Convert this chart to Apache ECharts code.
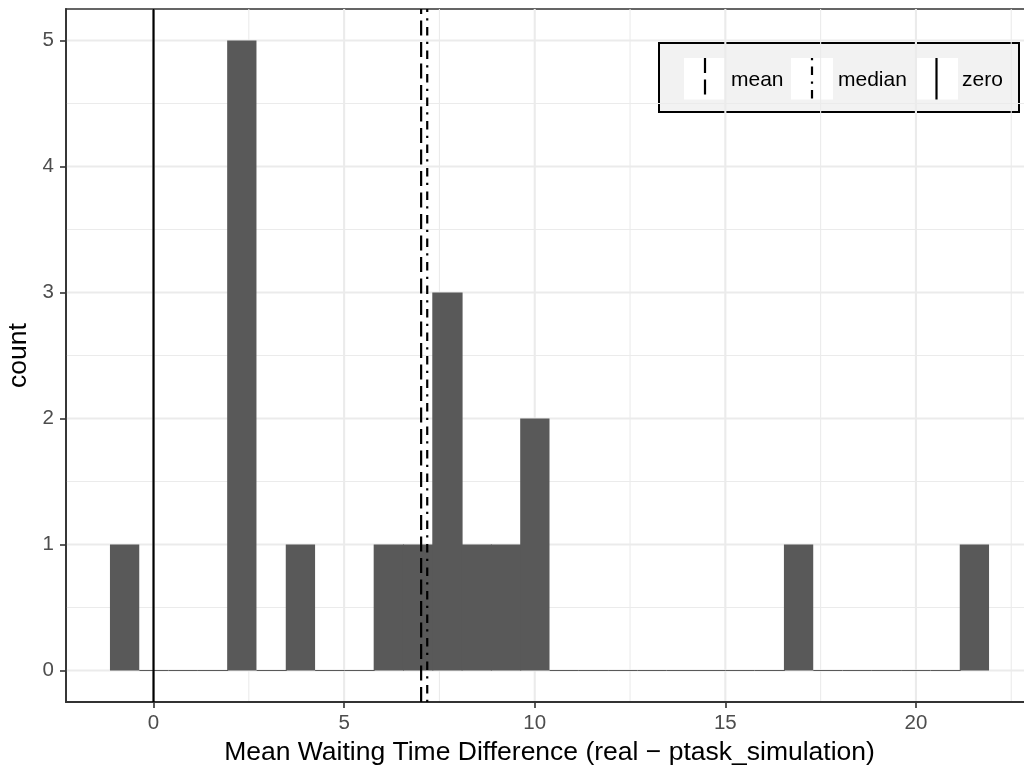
<!DOCTYPE html>
<html>
<head>
<meta charset="utf-8">
<script src="https://cdn.jsdelivr.net/npm/echarts@6/dist/echarts.min.js"></script>
<style>
html,body{margin:0;padding:0;background:#fff;}
#chart{width:1024px;height:769px;}
</style>
</head>
<body>
<div id="chart"></div>
<script>
// ---- data ----
const binCounts = [1,0,0,0,5,0,1,0,0,1,1,3,1,1,2,0,0,0,0,0,0,0,0,1,0,0,0,0,0,1];
const binStart = -1.143;
const binWidth = 0.7687;
const meanValue = 7.02;
const medianValue = 7.18;
const zeroValue = 0;
const xTicks = [0, 5, 10, 15, 20];
const xMinorGrid = [2.5, 7.5, 12.5, 17.5, 22.5];
const yTicks = [0, 1, 2, 3, 4, 5];
const yMinorGrid = [0.5, 1.5, 2.5, 3.5, 4.5];
const legendLabels = ['mean', 'median', 'zero'];
const xTitle = 'Mean Waiting Time Difference (real \u2212 ptask_simulation)';
const yTitle = 'count';

// ---- derived ranges (ggplot-style 5% expansion) ----
const dataXMin = Math.min(binStart, zeroValue);
const dataXMax = binStart + binCounts.length * binWidth;
const xPad = 0.05 * (dataXMax - dataXMin);
const xMin = dataXMin - xPad, xMax = dataXMax + xPad;
const yDataMax = Math.max(...binCounts);
const yMin = -0.05 * yDataMax, yMax = yDataMax * 1.05;

const FONT = '"Liberation Sans", Arial, Helvetica, sans-serif';
const chart = echarts.init(document.getElementById('chart'), null, {renderer: 'canvas'});

const barData = binCounts.map((c, i) => [binStart + i * binWidth, binStart + (i + 1) * binWidth, c]);

function vGrid(width) {
  return function (params, api) {
    const v = api.value(0);
    const a = api.coord([v, yMin]), b = api.coord([v, yMax]);
    return {type: 'line', shape: {x1: a[0], y1: a[1], x2: b[0], y2: b[1]},
      style: {stroke: '#EBEBEB', lineWidth: width}};
  };
}
function hGrid(width) {
  return function (params, api) {
    const v = api.value(0);
    const a = api.coord([xMin, v]), b = api.coord([xMax, v]);
    return {type: 'line', shape: {x1: a[0], y1: a[1], x2: b[0], y2: b[1]},
      style: {stroke: '#EBEBEB', lineWidth: width}};
  };
}

function vline(x, type, width) {
  return {
    type: 'line', data: [[x, yMin], [x, yMax]], symbol: 'none', silent: true,
    animation: false, z: 5,
    lineStyle: {color: '#000', width: width, type: type, cap: 'butt'}
  };
}

const longdash = [15, 6.5];
const dotdash = [2.2, 6.4, 8.5, 6.4];

const option = {
  animation: false,
  backgroundColor: '#fff',
  grid: {left: 66, top: 9, width: 967, height: 693, show: true, containLabel: false,
    outerBoundsMode: 'none',
    borderColor: '#333333', borderWidth: 1.6, backgroundColor: 'transparent'},
  xAxis: {
    type: 'value', min: xMin, max: xMax,
    name: xTitle, nameLocation: 'middle', nameGap: 32,
    nameTextStyle: {color: '#000', fontSize: 26.5, fontFamily: FONT},
    axisLine: {show: true, onZero: false, lineStyle: {color: '#333333', width: 1.8}},
    axisTick: {show: true, length: 6, customValues: xTicks, lineStyle: {color: '#333333', width: 1.6}},
    axisLabel: {show: true, customValues: xTicks, margin: 11, color: '#4D4D4D', fontSize: 20.5, fontFamily: FONT},
    splitLine: {show: false}, minorSplitLine: {show: false}
  },
  yAxis: {
    type: 'value', min: yMin, max: yMax,
    name: yTitle, nameLocation: 'middle', nameGap: 33, nameRotate: 90,
    nameTextStyle: {color: '#000', fontSize: 26.5, fontFamily: FONT},
    axisLine: {show: true, onZero: false, lineStyle: {color: '#333333', width: 1.8}},
    axisTick: {show: true, length: 6, customValues: yTicks, lineStyle: {color: '#333333', width: 1.6}},
    axisLabel: {show: true, customValues: yTicks, margin: 12, color: '#4D4D4D', fontSize: 20.5, fontFamily: FONT},
    splitLine: {show: false}
  },
  series: [
    {type: 'custom', silent: true, z: 0, data: xMinorGrid.map(v => [v]), renderItem: vGrid(1.1)},
    {type: 'custom', silent: true, z: 0, data: yMinorGrid.map(v => [v]), renderItem: hGrid(1.1)},
    {type: 'custom', silent: true, z: 0, data: xTicks.map(v => [v]), renderItem: vGrid(2.1)},
    {type: 'custom', silent: true, z: 0, data: yTicks.map(v => [v]), renderItem: hGrid(2.1)},
    {
      type: 'custom', z: 2, data: barData,
      encode: {x: [0, 1], y: 2},
      renderItem: function (params, api) {
        const x0 = api.value(0), x1 = api.value(1), c = api.value(2);
        const p0 = api.coord([x0, 0]);
        const p1 = api.coord([x1, c]);
        const next = params.dataIndex < binCounts.length - 1 ? binCounts[params.dataIndex + 1] : 0;
        const extra = next > 0 ? 1 : 0;
        if (c === 0) {
          const yb = Math.round(p0[1]);
          return {type: 'rect', shape: {x: p0[0], y: yb - 1, width: p1[0] - p0[0] + extra, height: 1},
            style: {fill: '#595959'}};
        }
        return {type: 'rect', shape: {x: p0[0], y: p1[1], width: p1[0] - p0[0] + extra, height: p0[1] - p1[1]},
          style: {fill: '#595959'}};
      }
    },
    vline(zeroValue, 'solid', 2.2),
    vline(meanValue, longdash, 2.2),
    vline(medianValue, dotdash, 2.2)
  ],
  graphic: [{
    type: 'group', left: 658, top: 42, z: 100,
    children: [
      {type: 'rect', shape: {x: 0, y: 0, width: 360, height: 69}, style: {fill: '#F2F2F2', stroke: '#000', lineWidth: 2}},
      {type: 'rect', shape: {x: 25, y: 15, width: 42, height: 41.5}, style: {fill: '#fff'}},
      {type: 'line', shape: {x1: 46, y1: 15, x2: 46, y2: 56.5}, style: {stroke: '#000', lineWidth: 2.2, lineDash: longdash, lineCap: 'butt'}},
      {type: 'text', x: 72, y: 37, style: {text: legendLabels[0], fill: '#000', fontSize: 21, fontFamily: FONT, verticalAlign: 'middle'}},
      {type: 'rect', shape: {x: 132, y: 15, width: 42, height: 41.5}, style: {fill: '#fff'}},
      {type: 'line', shape: {x1: 153, y1: 15, x2: 153, y2: 56.5}, style: {stroke: '#000', lineWidth: 2.2, lineDash: dotdash, lineCap: 'butt'}},
      {type: 'text', x: 179, y: 37, style: {text: legendLabels[1], fill: '#000', fontSize: 21, fontFamily: FONT, verticalAlign: 'middle'}},
      {type: 'rect', shape: {x: 257, y: 15, width: 42, height: 41.5}, style: {fill: '#fff'}},
      {type: 'line', shape: {x1: 277.5, y1: 15, x2: 277.5, y2: 56.5}, style: {stroke: '#000', lineWidth: 2.2, lineCap: 'butt'}},
      {type: 'text', x: 303, y: 37, style: {text: legendLabels[2], fill: '#000', fontSize: 21, fontFamily: FONT, verticalAlign: 'middle'}}
    ]
  }]
};
chart.setOption(option);
</script>
</body>
</html>
